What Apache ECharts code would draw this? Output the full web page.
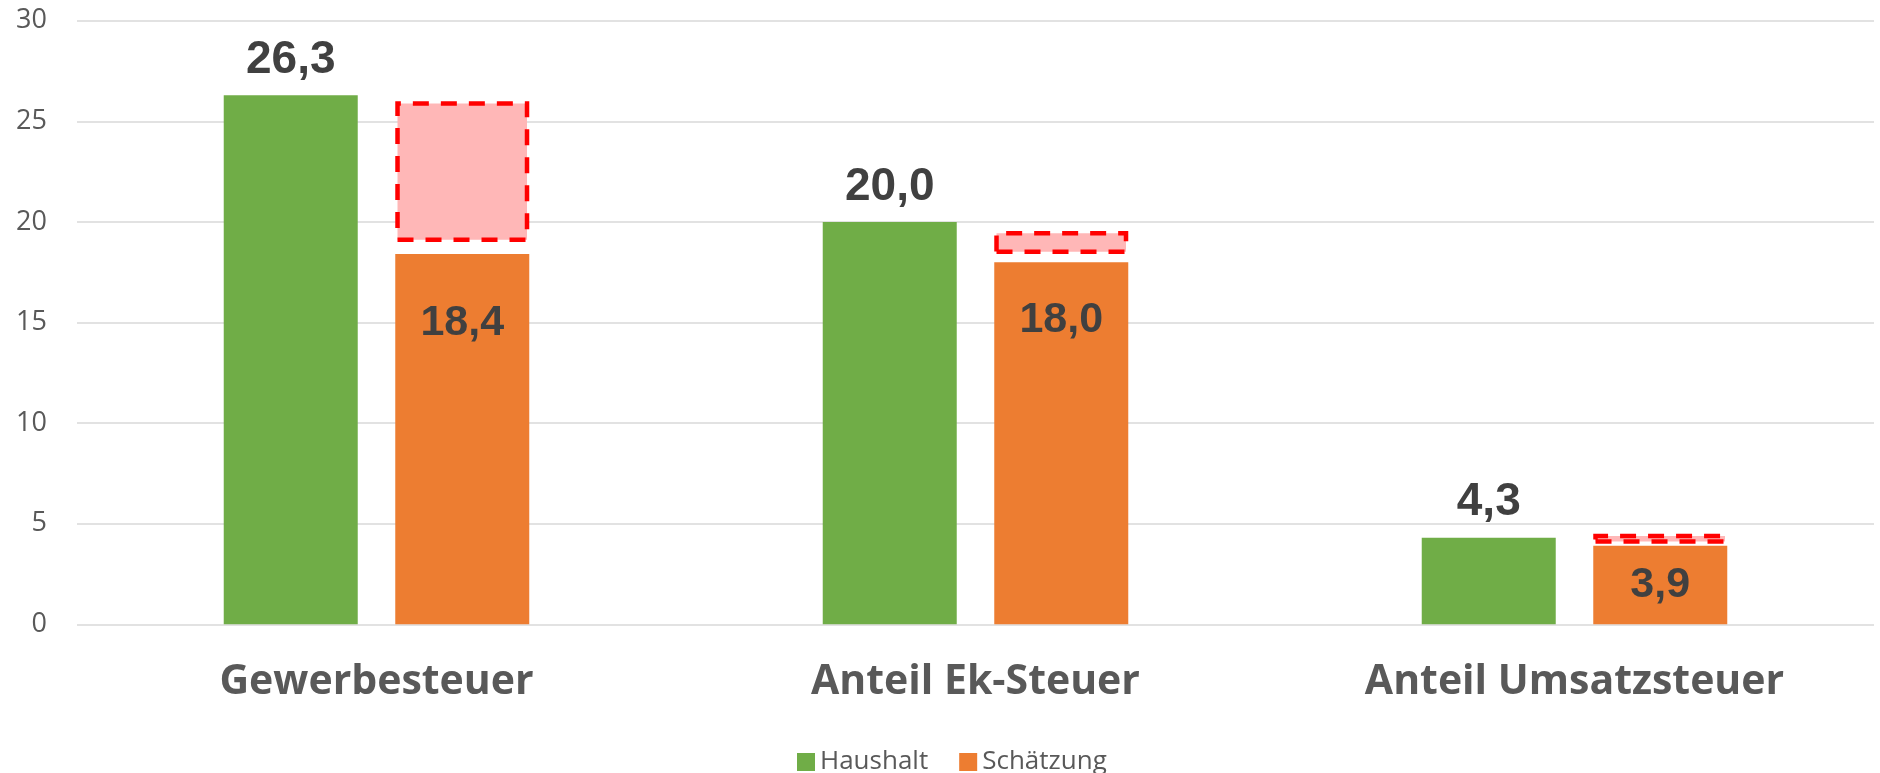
<!DOCTYPE html>
<html>
<head>
<meta charset="utf-8">
<script src="https://cdn.jsdelivr.net/npm/echarts@6/dist/echarts.min.js"></script>
<style>
html,body{margin:0;padding:0;background:#fff;}
#chart{width:1880px;height:773px;}
</style>
</head>
<body>
<div id="chart"></div>
<script>
// ---- data ----
const categories = ['Gewerbesteuer', 'Anteil Ek-Steuer', 'Anteil Umsatzsteuer'];
const haushalt = [26.3, 20.0, 4.3];
const schaetzung = [18.4, 18.0, 3.9];
// dashed estimate range boxes (lower / upper edge)
const estimateLow = [19.0, 18.4, 4.0];
const estimateHigh = [26.0, 19.55, 4.5];
const yTicks = [0, 5, 10, 15, 20, 25, 30];

// ---- chart ----
const fmt = v => v.toFixed(1).replace('.', ',');
const insideLabelDistance = [48, 37, 18];

const gapValues = estimateLow.map((v, i) => +(v - schaetzung[i]).toFixed(2));
const boxValues = estimateHigh.map((v, i) => +(v - estimateLow[i]).toFixed(2));

const chart = echarts.init(document.getElementById('chart'), null, {renderer: 'canvas'});
chart.setOption({
  animation: false,
  backgroundColor: '#ffffff',
  grid: {left: 77, right: 6, top: 20.7, bottom: 148.7, containLabel: false},
  legend: {
    data: ['Haushalt', 'Schätzung'],
    left: 792, top: 744,
    itemWidth: 18, itemHeight: 18, itemGap: 31,
    icon: 'rect',
    textStyle: {fontFamily: 'Open Sans', fontSize: 26, color: '#595959'}
  },
  xAxis: {
    type: 'category',
    data: categories,
    axisLine: {show: false},
    axisTick: {show: false},
    axisLabel: {
      margin: 38,
      fontFamily: 'Open Sans', fontWeight: 'bold', fontSize: 41, color: '#595959'
    }
  },
  yAxis: {
    type: 'value',
    min: yTicks[0], max: yTicks[yTicks.length - 1], interval: yTicks[1] - yTicks[0],
    axisLine: {show: false},
    axisTick: {show: false},
    splitLine: {lineStyle: {color: '#D9D9D9', width: 1.5}},
    axisLabel: {margin: 30, fontFamily: 'Open Sans', fontSize: 27, color: '#595959'}
  },
  series: [
    {
      name: 'Haushalt', type: 'bar', data: haushalt,
      barWidth: 134, barGap: '28%',
      itemStyle: {color: '#70AD47'},
      label: {
        show: true, position: 'top', distance: 12,
        formatter: p => fmt(p.value),
        fontFamily: 'Liberation Sans', fontWeight: 'bold', fontSize: 46, color: '#404040'
      }
    },
    {
      name: 'Schätzung', type: 'bar', stack: 's',
      data: schaetzung.map((v, i) => ({
        value: v,
        label: {distance: insideLabelDistance[i]}
      })),
      barWidth: 134, barGap: '28%',
      itemStyle: {color: '#ED7D31'},
      label: {
        show: true, position: 'insideTop',
        formatter: p => fmt(p.value),
        fontFamily: 'Liberation Sans', fontWeight: 'bold', fontSize: 43, color: '#404040'
      }
    },
    {
      name: 'gap', type: 'bar', stack: 's', data: gapValues,
      barWidth: 134, barGap: '28%',
      itemStyle: {color: 'rgba(0,0,0,0)'},
      silent: true, legendHoverLink: false
    },
    {
      name: 'estimate', type: 'bar', stack: 's', data: boxValues,
      barWidth: 134, barGap: '28%',
      itemStyle: {color: '#FFB7B7', borderColor: '#FF0000', borderWidth: 4.5, borderType: [16, 12]},
      silent: true
    }
  ]
});
</script>
</body>
</html>
